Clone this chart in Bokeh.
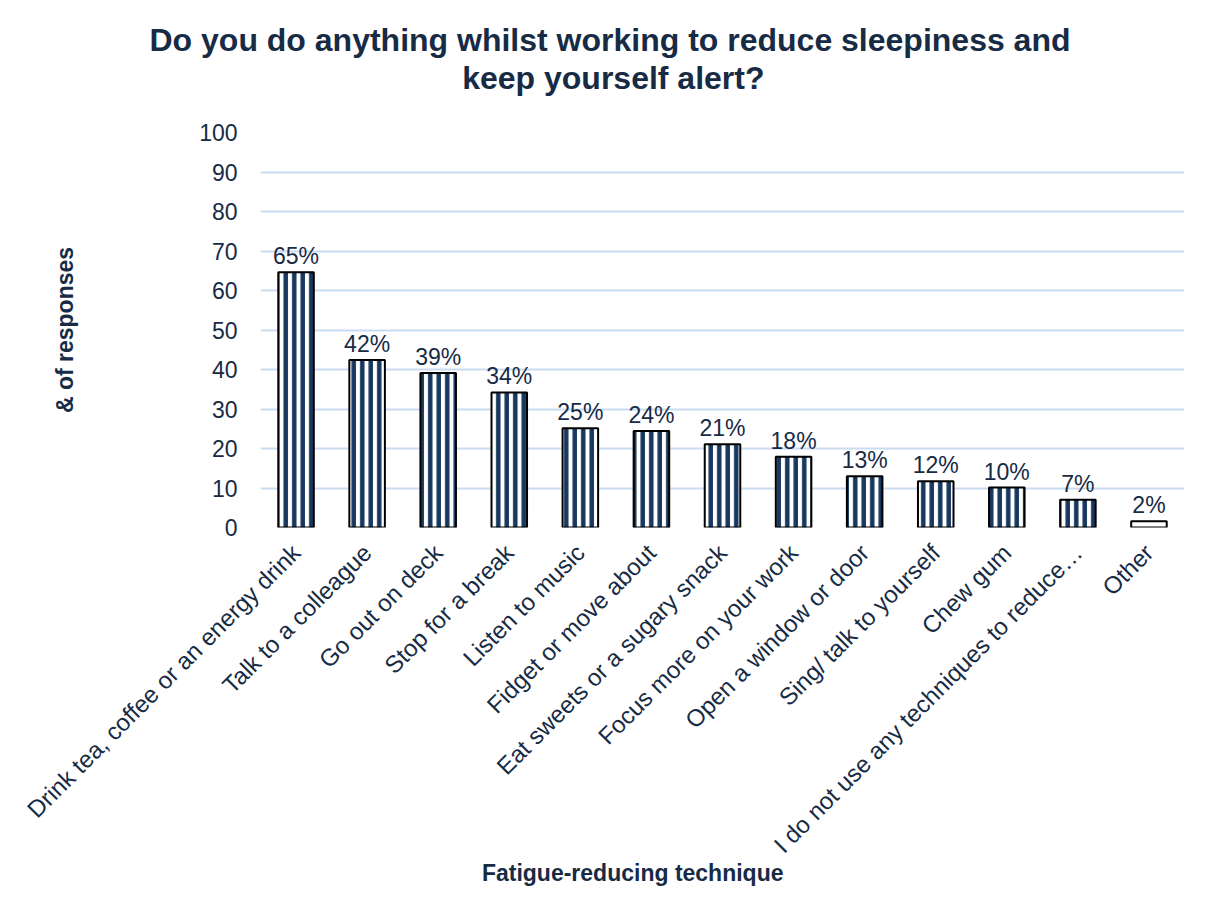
import math
from bokeh.plotting import figure
from bokeh.models import Range1d, FixedTicker, Title, ColumnDataSource
from bokeh.core.properties import value
from bokeh.embed import file_html
from bokeh.resources import INLINE

# ---- data ----
categories = [
    "Drink tea, coffee or an energy drink",
    "Talk to a colleague",
    "Go out on deck",
    "Stop for a break",
    "Listen to music",
    "Fidget or move about",
    "Eat sweets or a sugary snack",
    "Focus more on your work",
    "Open a window or door",
    "Sing/ talk to yourself",
    "Chew gum",
    "I do not use any techniques to reduce\u2026",
    "Other",
]
values = [64.6, 42.4, 39.1, 34.2, 25.1, 24.4, 21.1, 17.9, 13.0, 11.7, 10.1, 7.0, 1.6]
pct_labels = ["65%", "42%", "39%", "34%", "25%", "24%", "21%", "18%", "13%", "12%", "10%", "7%", "2%"]
y_ticks = list(range(0, 101, 10))

title_line1 = "Do you do anything whilst working to reduce sleepiness and"
title_line2 = "keep yourself alert?"
x_title = "Fatigue-reducing technique"
y_title = "& of responses"

# ---- style ----
FONT = "Liberation Sans"
TEXT = "#172B45"
NAVY = "#17375E"
GRID = "#C9DBF1"

n = len(categories)
xs = list(range(n))
patterns = ["vertical_line"] * (n - 1) + [" "]
src = ColumnDataSource(dict(x=xs, top=values, lab=pct_labels, pat=patterns))

p = figure(width=1208, height=906, output_backend="svg", toolbar_location=None,
           x_range=Range1d(-0.5, n - 0.5), y_range=Range1d(0, 100))
p.min_border_left = 260
p.min_border_right = 24
p.min_border_top = 132
p.min_border_bottom = 379
p.outline_line_color = None
p.background_fill_color = "white"
p.border_fill_color = "white"

p.xgrid.grid_line_color = None
p.ygrid.grid_line_color = GRID
p.ygrid.grid_line_width = 2
p.ygrid.ticker = FixedTicker(ticks=y_ticks)

p.vbar(x="x", top="top", width=0.5, bottom=0, source=src,
       fill_color="white", hatch_pattern="pat", hatch_color=NAVY,
       hatch_weight=4.5, hatch_scale=8.5,
       line_color="black", line_width=2)

p.text(x="x", y="top", text="lab", source=src, y_offset=-16,
       text_align="center", text_baseline="alphabetic",
       text_font=value(FONT), text_font_size="23px", text_color=TEXT)

# y axis
ya = p.yaxis[0]
ya.ticker = FixedTicker(ticks=y_ticks)
ya.axis_line_color = None
ya.major_tick_line_color = None
ya.minor_tick_line_color = None
ya.major_tick_out = 0
ya.major_label_standoff = 23
ya.major_label_text_font = FONT
ya.major_label_text_font_size = "23px"
ya.major_label_text_color = TEXT
ya.axis_label = y_title
ya.axis_label_standoff = 118
ya.axis_label_text_font = FONT
ya.axis_label_text_font_size = "23px"
ya.axis_label_text_font_style = "bold"
ya.axis_label_text_color = TEXT

# x axis
xa = p.xaxis[0]
xa.ticker = FixedTicker(ticks=xs)
xa.major_label_overrides = {i: c for i, c in enumerate(categories)}
xa.major_label_orientation = math.pi / 4
xa.axis_line_color = None
xa.major_tick_line_color = None
xa.minor_tick_line_color = None
xa.major_tick_out = 0
xa.major_label_standoff = 21
xa.major_label_text_font = FONT
xa.major_label_text_font_size = "24px"
xa.major_label_text_color = TEXT

# spacer between plot area and the two-line title
p.add_layout(Title(text=" ", standoff=34, text_font_size="1px"), "above")
# titles (right-aligned with offsets so they centre on the whole chart area)
p.add_layout(Title(text=title_line2, align="right", offset=420, standoff=0,
                   text_font=FONT, text_font_size="32px", text_font_style="bold",
                   text_color=TEXT), "above")
p.add_layout(Title(text=title_line1, align="right", offset=114, standoff=0,
                   text_font=FONT, text_font_size="32px", text_font_style="bold",
                   text_color=TEXT), "above")

xt = Title(text=x_title, align="right", offset=401, standoff=0,
           text_font=FONT, text_font_size="23px", text_font_style="bold",
           text_color=TEXT)
try:
    xt.standoff = -30
except Exception:
    xt.standoff = 0
p.add_layout(xt, "below")

open("out.html", "w").write(file_html(p, INLINE))
